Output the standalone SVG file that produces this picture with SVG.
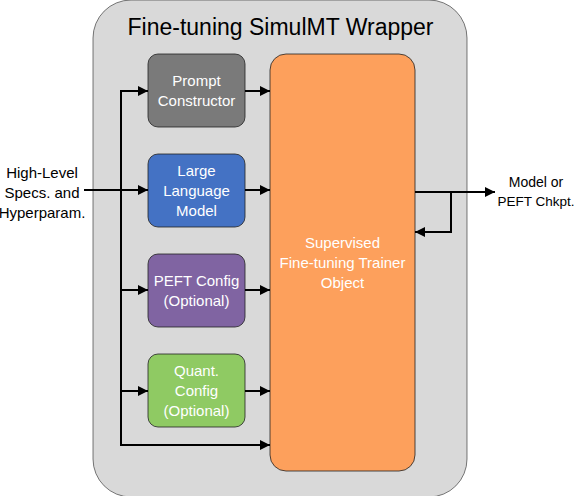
<svg xmlns="http://www.w3.org/2000/svg" width="578" height="496" viewBox="0 0 578 496">
<style>
text{font-family:"Liberation Sans",Arial,sans-serif;text-anchor:middle}
.w{fill:#fff;font-size:15px}
.k{fill:#000;font-size:15px}
.box{stroke:#222;stroke-width:0.8}
.ln{stroke:#000;stroke-width:2;fill:none}
</style>
<defs>
<marker id="ah" viewBox="0 0 10 10" refX="10" refY="5" markerWidth="10" markerHeight="10" markerUnits="userSpaceOnUse" orient="auto">
<path d="M0,0 L10,5 L0,10 z" fill="#000"/>
</marker>
</defs>
<g id="wrapper">
<rect x="93" y="0" width="374" height="497" rx="38" fill="#D9D9D9" stroke="#222" stroke-width="0.6"/>
<text x="280.5" y="35" style="font-size:23px" fill="#000">Fine-tuning SimulMT Wrapper</text>
</g>
<g id="trainer">
<rect x="270" y="54" width="145" height="417" rx="16" fill="#FDA05C" stroke="#222" stroke-width="0.8"/>
<text class="w" x="342.5" y="248">Supervised</text>
<text class="w" x="342.5" y="268">Fine-tuning Trainer</text>
<text class="w" x="342.5" y="288">Object</text>
</g>
<g id="prompt">
<rect class="box" x="148" y="54" width="97" height="73" rx="10" fill="#7A7A7A"/>
<text class="w" x="196.5" y="86">Prompt</text>
<text class="w" x="196.5" y="106">Constructor</text>
</g>
<g id="llm">
<rect class="box" x="148" y="154" width="97" height="73" rx="10" fill="#4472C4"/>
<text class="w" x="196.5" y="176">Large</text>
<text class="w" x="196.5" y="196">Language</text>
<text class="w" x="196.5" y="216">Model</text>
</g>
<g id="peft">
<rect class="box" x="148" y="254" width="97" height="73" rx="10" fill="#8064A2"/>
<text class="w" x="196.5" y="286">PEFT Config</text>
<text class="w" x="196.5" y="306">(Optional)</text>
</g>
<g id="quant">
<rect class="box" x="148" y="354" width="97" height="73" rx="10" fill="#8FCA63"/>
<text class="w" x="196.5" y="376">Quant.</text>
<text class="w" x="196.5" y="396">Config</text>
<text class="w" x="196.5" y="416">(Optional)</text>
</g>
<g id="input">
<text class="k" x="42" y="178">High-Level</text>
<text class="k" x="42" y="198">Specs. and</text>
<text class="k" x="42" y="218">Hyperparam.</text>
</g>
<g id="output">
<text class="k" x="536" y="187" style="font-size:14px">Model or</text>
<text class="k" x="536" y="206" style="font-size:13.5px">PEFT Chkpt.</text>
</g>
<g id="connectors">
<path class="ln" d="M84,190 L148,190" marker-end="url(#ah)"/>
<path class="ln" d="M121,91 L121,445"/>
<path class="ln" d="M120,91 L148,91" marker-end="url(#ah)"/>
<path class="ln" d="M121,290 L148,290" marker-end="url(#ah)"/>
<path class="ln" d="M121,391 L148,391" marker-end="url(#ah)"/>
<path class="ln" d="M120,445 L270,445" marker-end="url(#ah)"/>
<path class="ln" d="M245,91 L270,91" marker-end="url(#ah)"/>
<path class="ln" d="M245,190 L270,190" marker-end="url(#ah)"/>
<path class="ln" d="M245,290 L270,290" marker-end="url(#ah)"/>
<path class="ln" d="M245,391 L270,391" marker-end="url(#ah)"/>
<path class="ln" d="M415,192 L495,192" marker-end="url(#ah)"/>
<path class="ln" d="M451,192 L451,232 L415,232" marker-end="url(#ah)"/>
</g>
</svg>
